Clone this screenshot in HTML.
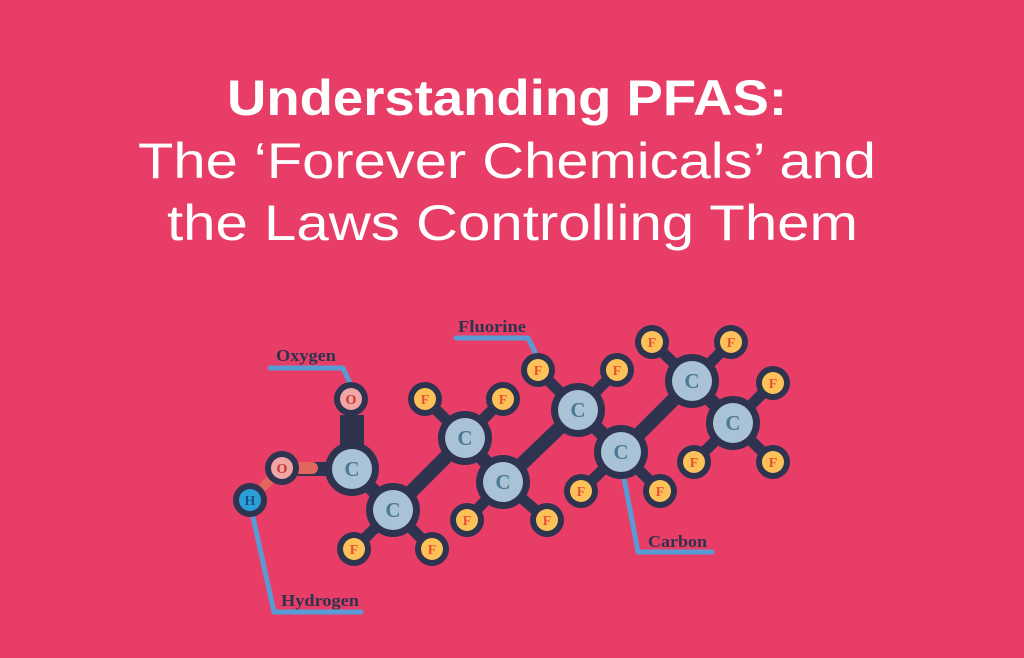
<!DOCTYPE html>
<html><head><meta charset="utf-8"><style>
html,body{margin:0;padding:0;background:#E83D66;}
svg{display:block}
</style></head><body>
<svg width="1024" height="658" viewBox="0 0 1024 658" xmlns="http://www.w3.org/2000/svg">
<rect width="1024" height="658" fill="#E83D66"/>
<g fill="#fff" font-family="Liberation Sans, sans-serif" font-size="50">
<text x="227" y="115" textLength="560" lengthAdjust="spacingAndGlyphs" font-weight="bold">Understanding PFAS:</text>
<text x="138" y="178" textLength="738" lengthAdjust="spacingAndGlyphs">The ‘Forever Chemicals’ and</text>
<text x="167" y="240" textLength="691" lengthAdjust="spacingAndGlyphs">the Laws Controlling Them</text>
</g>
<g fill="none" stroke="#5B9BD5" stroke-width="5" stroke-linecap="round" stroke-linejoin="round">
<polyline points="270,368 343,368 350,383"/>
<polyline points="456,338 528,338 535,352"/>
<polyline points="624,478 638,552 712,552"/>
<polyline points="253,517 274,612 361,612"/>
</g>
<g fill="#2E3350" font-family="Liberation Serif, serif" font-weight="bold" font-size="17">
<text x="276" y="361" textLength="60" lengthAdjust="spacingAndGlyphs">Oxygen</text>
<text x="458" y="332" textLength="68" lengthAdjust="spacingAndGlyphs">Fluorine</text>
<text x="648" y="547" textLength="59" lengthAdjust="spacingAndGlyphs">Carbon</text>
<text x="281" y="606" textLength="78" lengthAdjust="spacingAndGlyphs">Hydrogen</text>
</g>
<g stroke="#2E3350" stroke-width="14" stroke-linecap="round">
<line x1="352" y1="469" x2="393" y2="510"/>
<line x1="393" y1="510" x2="465" y2="438"/>
<line x1="465" y1="438" x2="503" y2="482"/>
<line x1="503" y1="482" x2="578" y2="410"/>
<line x1="578" y1="410" x2="621" y2="452"/>
<line x1="621" y1="452" x2="692" y2="381"/>
<line x1="692" y1="381" x2="733" y2="423"/>
<line x1="352" y1="469" x2="300" y2="469"/>
<g stroke-width="11">
<line x1="465" y1="438" x2="425" y2="399"/><line x1="465" y1="438" x2="503" y2="399"/>
<line x1="393" y1="510" x2="354" y2="549"/><line x1="393" y1="510" x2="432" y2="549"/>
<line x1="503" y1="482" x2="467" y2="520"/><line x1="503" y1="482" x2="547" y2="520"/>
<line x1="578" y1="410" x2="538" y2="370"/><line x1="578" y1="410" x2="617" y2="370"/>
<line x1="621" y1="452" x2="581" y2="491"/><line x1="621" y1="452" x2="660" y2="491"/>
<line x1="692" y1="381" x2="652" y2="342"/><line x1="692" y1="381" x2="731" y2="342"/>
<line x1="733" y1="423" x2="773" y2="383"/><line x1="733" y1="423" x2="694" y2="462"/><line x1="733" y1="423" x2="773" y2="462"/>
</g>
</g>
<rect x="340" y="415" width="24" height="40" fill="#2E3350"/>
<line x1="282" y1="468" x2="312" y2="468" stroke="#E0665E" stroke-width="12" stroke-linecap="round"/>
<line x1="282" y1="468" x2="250" y2="500" stroke="#E0665E" stroke-width="9" stroke-linecap="round"/>
<g font-family="Liberation Serif, serif" font-weight="bold" text-anchor="middle">
<g font-size="21" fill="#4A7A94">
<circle cx="352" cy="469" r="27" fill="#2E3350"/><circle cx="352" cy="469" r="20" fill="#A9C2D6"/><text x="352" y="476">C</text>
<circle cx="393" cy="510" r="27" fill="#2E3350"/><circle cx="393" cy="510" r="20" fill="#A9C2D6"/><text x="393" y="517">C</text>
<circle cx="465" cy="438" r="27" fill="#2E3350"/><circle cx="465" cy="438" r="20" fill="#A9C2D6"/><text x="465" y="445">C</text>
<circle cx="503" cy="482" r="27" fill="#2E3350"/><circle cx="503" cy="482" r="20" fill="#A9C2D6"/><text x="503" y="489">C</text>
<circle cx="578" cy="410" r="27" fill="#2E3350"/><circle cx="578" cy="410" r="20" fill="#A9C2D6"/><text x="578" y="417">C</text>
<circle cx="621" cy="452" r="27" fill="#2E3350"/><circle cx="621" cy="452" r="20" fill="#A9C2D6"/><text x="621" y="459">C</text>
<circle cx="692" cy="381" r="27" fill="#2E3350"/><circle cx="692" cy="381" r="20" fill="#A9C2D6"/><text x="692" y="388">C</text>
<circle cx="733" cy="423" r="27" fill="#2E3350"/><circle cx="733" cy="423" r="20" fill="#A9C2D6"/><text x="733" y="430">C</text>
</g>
<g font-size="14" fill="#E8502D">
<circle cx="425" cy="399" r="17" fill="#2E3350"/><circle cx="425" cy="399" r="11" fill="#FDC15A"/><text x="425" y="404">F</text>
<circle cx="503" cy="399" r="17" fill="#2E3350"/><circle cx="503" cy="399" r="11" fill="#FDC15A"/><text x="503" y="404">F</text>
<circle cx="354" cy="549" r="17" fill="#2E3350"/><circle cx="354" cy="549" r="11" fill="#FDC15A"/><text x="354" y="554">F</text>
<circle cx="432" cy="549" r="17" fill="#2E3350"/><circle cx="432" cy="549" r="11" fill="#FDC15A"/><text x="432" y="554">F</text>
<circle cx="467" cy="520" r="17" fill="#2E3350"/><circle cx="467" cy="520" r="11" fill="#FDC15A"/><text x="467" y="525">F</text>
<circle cx="547" cy="520" r="17" fill="#2E3350"/><circle cx="547" cy="520" r="11" fill="#FDC15A"/><text x="547" y="525">F</text>
<circle cx="538" cy="370" r="17" fill="#2E3350"/><circle cx="538" cy="370" r="11" fill="#FDC15A"/><text x="538" y="375">F</text>
<circle cx="617" cy="370" r="17" fill="#2E3350"/><circle cx="617" cy="370" r="11" fill="#FDC15A"/><text x="617" y="375">F</text>
<circle cx="581" cy="491" r="17" fill="#2E3350"/><circle cx="581" cy="491" r="11" fill="#FDC15A"/><text x="581" y="496">F</text>
<circle cx="660" cy="491" r="17" fill="#2E3350"/><circle cx="660" cy="491" r="11" fill="#FDC15A"/><text x="660" y="496">F</text>
<circle cx="652" cy="342" r="17" fill="#2E3350"/><circle cx="652" cy="342" r="11" fill="#FDC15A"/><text x="652" y="347">F</text>
<circle cx="731" cy="342" r="17" fill="#2E3350"/><circle cx="731" cy="342" r="11" fill="#FDC15A"/><text x="731" y="347">F</text>
<circle cx="773" cy="383" r="17" fill="#2E3350"/><circle cx="773" cy="383" r="11" fill="#FDC15A"/><text x="773" y="388">F</text>
<circle cx="694" cy="462" r="17" fill="#2E3350"/><circle cx="694" cy="462" r="11" fill="#FDC15A"/><text x="694" y="467">F</text>
<circle cx="773" cy="462" r="17" fill="#2E3350"/><circle cx="773" cy="462" r="11" fill="#FDC15A"/><text x="773" y="467">F</text>
</g>
<g font-size="14">
<circle cx="351" cy="399" r="17" fill="#2E3350"/><circle cx="351" cy="399" r="11" fill="#F2A5A5"/><text x="351" y="404" fill="#C8352E">O</text>
<circle cx="282" cy="468" r="17" fill="#2E3350"/><circle cx="282" cy="468" r="11" fill="#F2A5A5"/><text x="282" y="473" fill="#C8352E">O</text>
<circle cx="250" cy="500" r="17" fill="#2E3350"/><circle cx="250" cy="500" r="11" fill="#2A9FD8"/><text x="250" y="505" fill="#1B4F8A">H</text>
</g>
</g>
</svg>
</body></html>
